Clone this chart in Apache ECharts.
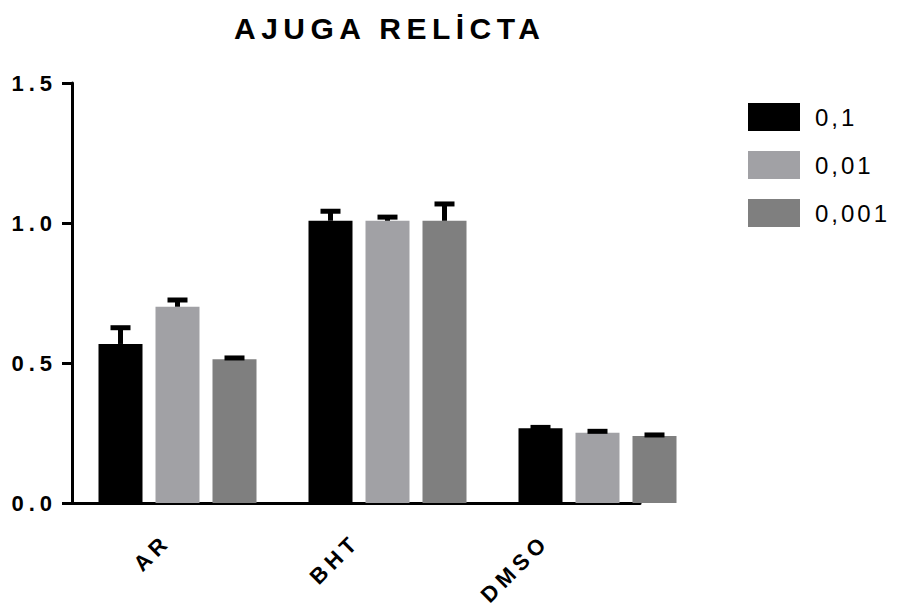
<!DOCTYPE html>
<html><head><meta charset="utf-8">
<script src="https://cdn.jsdelivr.net/npm/echarts/dist/echarts.min.js"></script>
<style>html,body{margin:0;padding:0;background:#fff}#c{width:898px;height:610px}</style>
</head><body><div id="c"></div>
<script>
const chartTitle = 'AJUGA RELİCTA';
const categories = ['AR', 'BHT', 'DMSO'];
const seriesNames = ['0,1', '0,01', '0,001'];
const values_0_1 = [0.568, 1.008, 0.267];
const values_0_01 = [0.701, 1.008, 0.251];
const values_0_001 = [0.513, 1.008, 0.239];
const errors_0_1 = [0.058, 0.034, 0.003];
const errors_0_01 = [0.024, 0.013, 0.005];
const errors_0_001 = [0.005, 0.060, 0.004];
const yTickLabels = ['0.0', '0.5', '1.0', '1.5'];

const colors = ['#000000', '#a1a1a5', '#7f7f7f'];
const FONT = 'Liberation Sans, Arial, sans-serif';
const BAR_W = 44, BAR_STEP = 57;

const valueSets = [values_0_1, values_0_01, values_0_001];
const errorSets = [errors_0_1, errors_0_01, errors_0_001];

const grid = { left: 72, right: 258, top: 83, bottom: 107 };
const barGrid = { left: 72.5, right: 195.5, top: 83, bottom: 107 };

function errSeries(idx) {
  const vals = valueSets[idx], errs = errorSets[idx];
  return {
    type: 'custom', xAxisIndex: 1, yAxisIndex: 1, z: 5, silent: true,
    data: vals.map((v, i) => [i, v, v + errs[i]]),
    renderItem(params, api) {
      const i = api.value(0);
      const base = api.coord([i, api.value(1)]);
      const top = api.coord([i, api.value(2)]);
      const x = base[0] + (idx - 1) * BAR_STEP;
      return {
        type: 'group', children: [
          { type: 'rect', shape: { x: x - 2.5, y: top[1], width: 5, height: Math.max(0, base[1] - top[1]) }, style: { fill: '#000' } },
          { type: 'rect', shape: { x: x - 10, y: top[1] - 2.5, width: 20, height: 5 }, style: { fill: '#000' } }
        ]
      };
    }
  };
}

const chart = echarts.init(document.getElementById('c'), null, { renderer: 'svg' });
chart.setOption({
  animation: false,
  backgroundColor: '#fff',
  title: {
    text: chartTitle, left: 229, top: 8,
    textStyle: { fontFamily: FONT, fontWeight: 'bold', fontSize: 30, color: '#000' }
  },
  legend: {
    orient: 'vertical', left: 743, top: 98, itemWidth: 52, itemHeight: 28, itemGap: 20,
    icon: 'rect', data: seriesNames,
    textStyle: { fontFamily: FONT, fontSize: 24, color: '#000', padding: [8, 0, 0, 10] }
  },
  grid: [grid, barGrid],
  xAxis: [
    {
      type: 'category', gridIndex: 0, data: categories,
      axisLine: { lineStyle: { color: '#000', width: 3 } },
      axisTick: { alignWithLabel: true, length: 10, lineStyle: { width: 3, color: '#000' } },
      axisLabel: { rotate: 45, margin: 35, fontFamily: FONT, fontWeight: 'bold', fontSize: 22, color: '#000' }
    },
    { type: 'category', gridIndex: 1, data: categories, show: false }
  ],
  yAxis: [
    {
      type: 'value', gridIndex: 0, min: 0, max: 1.5, interval: 0.5,
      splitLine: { show: false },
      axisLine: { show: true, lineStyle: { color: '#000', width: 3 } },
      axisTick: { show: true, length: 10, lineStyle: { width: 3, color: '#000' } },
      axisLabel: {
        margin: 15, fontFamily: FONT, fontWeight: 'bold', fontSize: 22, color: '#000',
        formatter: v => yTickLabels[Math.round(v / 0.5)]
      }
    },
    { type: 'value', gridIndex: 1, min: 0, max: 1.5, show: false }
  ],
  series: [
    ...seriesNames.map((name, k) => ({
      name, type: 'bar', xAxisIndex: 1, yAxisIndex: 1,
      data: valueSets[k], barWidth: BAR_W, barGap: ((BAR_STEP - BAR_W) / BAR_W * 100) + '%',
      itemStyle: { color: colors[k] }
    })),
    errSeries(0), errSeries(1), errSeries(2)
  ]
});

function spacing() {
  document.querySelectorAll('#c text').forEach(t => {
    const s = t.textContent;
    let ls = '5px';
    if (s === chartTitle) ls = '5.5px';
    else if (seriesNames.includes(s)) ls = '3px';
    t.style.letterSpacing = ls;
  });
}
spacing();
chart.on('finished', spacing);
setTimeout(spacing, 50);
</script>
</body></html>
